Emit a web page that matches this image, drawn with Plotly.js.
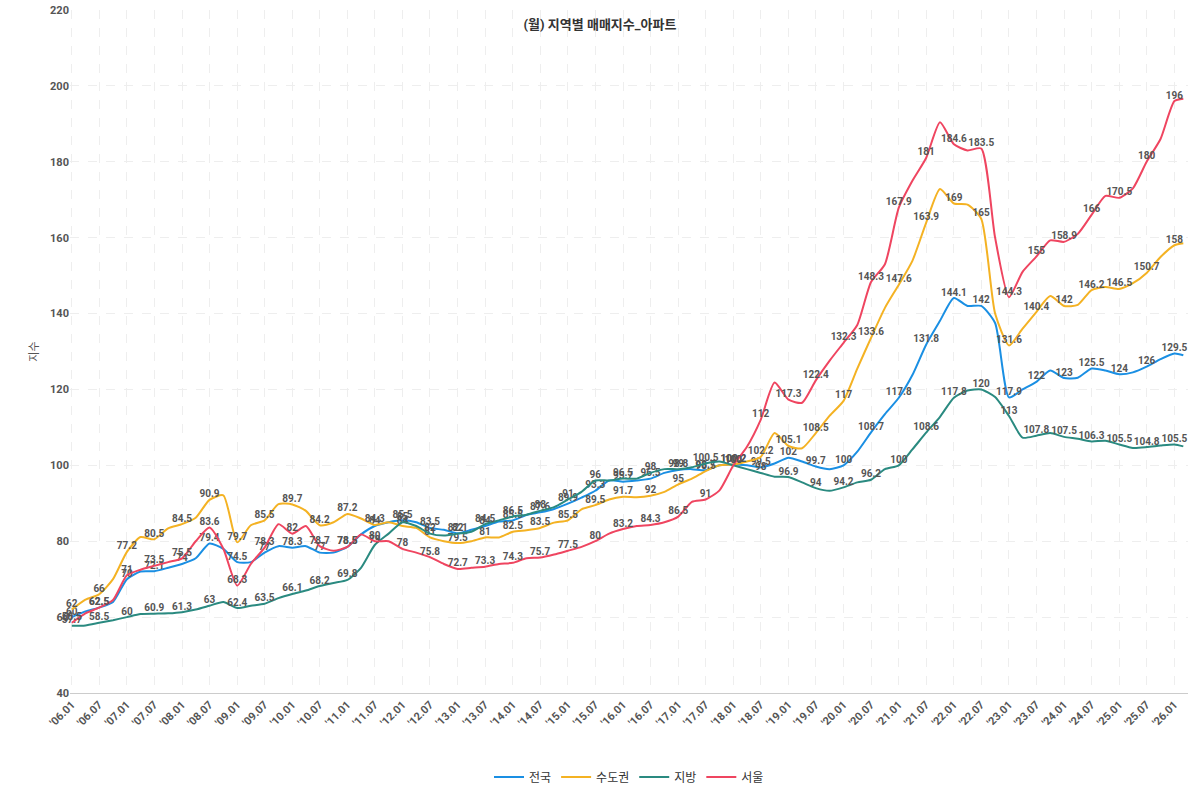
<!DOCTYPE html>
<html>
<head>
<meta charset="utf-8">
<script src="https://cdn.plot.ly/plotly-3.0.1.min.js"></script>
<style>body{margin:0;background:#fff}#chart{width:1200px;height:800px}</style>
</head>
<body>
<div id="chart"></div>
<script>
// quarterly samples (Jan, Apr, Jul, Oct), 2006.01 .. 2026.01, plus 2026.03
const months = [];
for (let y = 2006; y <= 2026; y++) {
    for (const m of ['01', '04', '07', '10']) {
        if (y === 2026 && m !== '01') break;
        months.push(y + '-' + m + '-01');
    }
}
months.push('2026-03-01');

const nationwide = [
    60, 61.5, 62.5, 64,  70, 72, 72.1, 73,  74, 75.5, 79.4, 78,  74.5, 74.5, 77, 78.7,
    78.3, 78.7, 77, 77,  78.5, 81.8, 84, 85,  85.5, 85, 83.5, 83,  82.1, 83, 84, 85.2,
    85.5, 86.9, 87.6, 88.5,  89.9, 91.5, 93.3, 96,  95.7, 96, 96.5, 98,  98.8, 99, 98.7, 100,
    100.2, 100, 99.5, 100.5,  102, 101, 99.7, 99,  100, 103.6, 108.7, 113.5,  117.8, 123.8, 131.8, 138.1,
    144.1, 142, 142, 137.5,  117.9, 120, 122, 125,  123, 123.1, 125.5, 125,  124, 124.5, 126, 128,
    129.5, 129
];
const capital = [
    62, 64.6, 66, 70,  77.2, 81.1, 80.5, 83.4,  84.5, 86.2, 90.9, 92.1,  79.7, 84.2, 85.5, 89.8,
    89.7, 88, 84.2, 85,  87.2, 86, 84.3, 85,  84, 83.5, 81, 80,  79.5, 80, 81, 81,
    82.5, 82.9, 83.5, 84.9,  85.5, 88.4, 89.5, 91,  91.7, 91.6, 92, 93,  95, 96.5, 98.5, 100,
    100.2, 101, 102.2, 108.5,  105.1, 104.5, 108.5, 113.1,  117, 125.5, 133.6, 141.5,  147.6, 153.9, 163.9, 172.8,
    169, 168.7, 165, 140,  131.6, 136, 140.4, 144.6,  142, 142.3, 146.2, 147,  146.5, 148, 150.7, 154.9,
    158, 158.5
];
const regional = [
    57.7, 57.8, 58.5, 59.2,  60, 60.8, 60.9, 61,  61.3, 62, 63, 64,  62.4, 63, 63.5, 65,
    66.1, 67, 68.2, 69,  69.8, 73, 79, 82,  85, 84, 82, 81.5,  82, 82.5, 84.5, 85.5,
    86.5, 87, 88, 89,  91, 93, 96, 96,  96.5, 96.5, 98, 99,  99, 99.5, 100.5, 101,
    100, 99, 98, 97,  96.9, 95.5, 94, 93.3,  94.2, 95.5, 96.2, 99,  100, 104.2, 108.6, 112.8,
    117.8, 119.7, 120, 118,  113, 107.3, 107.8, 108.5,  107.5, 107, 106.3, 106.5,  105.5, 104.6, 104.8, 105.2,
    105.5, 105
];
const seoul = [
    58.5, 61, 62.5, 64.5,  71, 72.5, 73.5, 74.5,  75.5, 80, 83.6, 78,  68.3, 74, 78.3, 84.5,
    82, 84, 78.7, 77.5,  78.5, 81.8, 80, 80,  78, 77, 75.8, 74,  72.7, 73, 73.3, 74,
    74.3, 75.5, 75.7, 76.5,  77.5, 78.5, 80, 82,  83.2, 84, 84.3, 85,  86.5, 90.4, 91, 93.4,
    100, 104.9, 112, 121.8,  117.3, 116.5, 122.4, 127.6,  132.3, 137, 148.3, 153,  167.9, 175, 181, 190.4,
    184.6, 183, 183.5, 160,  144.3, 151, 155, 159.3,  158.9, 161, 166, 171,  170.5, 173, 180, 186,
    196, 196.6
];

const names = ['전국', '수도권', '지방', '서울'];
const colors = ['#1a8fe3', '#f4b223', '#2a8a80', '#ef4560'];
const series = [nationwide, capital, regional, seoul];

const tickVals = [], tickText = [];
for (let y = 2006; y <= 2026; y++) {
    for (const m of ['01', '07']) {
        if (y === 2026 && m === '07') break;
        tickVals.push(y + '-' + m + '-01');
        tickText.push("'" + String(y).slice(2) + '.' + m);
    }
}

const data = series.map((vals, i) => ({
    x: months, y: vals, name: names[i],
    mode: 'lines+text',
    line: {color: colors[i], width: 2, shape: 'spline', smoothing: 0.6},
    text: vals.map((v, j) => (j % 2 === 0 ? String(v) : '')),
    textposition: 'top center',
    textfont: {size: 10, color: '#555', family: 'Roboto', weight: 'bold'},
    cliponaxis: false,
    hoverinfo: 'x+y+name'
}));

const layout = {
    width: 1200, height: 800,
    margin: {l: 70, r: 12, t: 10, b: 106},
    paper_bgcolor: '#fff', plot_bgcolor: '#fff',
    font: {family: 'Roboto, "Noto Sans CJK KR", sans-serif', color: '#555'},
    title: {text: '<b>(월) 지역별 매매지수_아파트</b>', x: 0.5, y: 0.975, font: {size: 13, color: '#333'}},
    xaxis: {
        type: 'date', range: ['2005-12-20', '2026-04-01'],
        tickvals: tickVals, ticktext: tickText, tickangle: -45,
        tickfont: {size: 11, color: '#555', weight: 'bold'},
        showgrid: true, gridcolor: '#eee', griddash: 'dash',
        showline: true, linecolor: '#ccc', zeroline: false
    },
    yaxis: {
        range: [40, 220], dtick: 20,
        title: {text: '지수', font: {size: 11, color: '#555'}},
        tickfont: {size: 11, color: '#555', weight: 'bold'},
        showgrid: true, gridcolor: '#eee', griddash: 'dash', zeroline: false
    },
    legend: {orientation: 'h', x: 0.5, xanchor: 'center', y: -0.1, yanchor: 'top', font: {size: 12, color: '#333'}},
    showlegend: true
};

Plotly.newPlot('chart', data, layout, {displayModeBar: false});
</script>
</body>
</html>
